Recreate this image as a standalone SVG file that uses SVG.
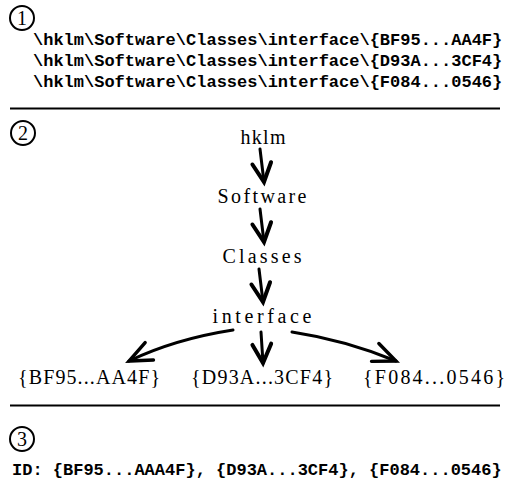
<svg xmlns="http://www.w3.org/2000/svg" width="511" height="482" viewBox="0 0 511 482">
<style>
.bg{fill:#fff}
.num circle{fill:none;stroke:#000;stroke-width:2}
.num text{font-family:"Liberation Serif",serif;font-size:20px;text-anchor:middle;fill:#000}
.path{font-family:"Liberation Mono",monospace;font-weight:bold;font-size:17px;fill:#000}
.node text{font-family:"Liberation Serif",serif;font-size:20px;text-anchor:middle;fill:#000}
.sep{stroke:#000;stroke-width:2.2}
.conn path{fill:none;stroke:#000;stroke-width:3;stroke-linecap:round}
</style>
<defs>
<marker id="ah" markerUnits="userSpaceOnUse" markerWidth="30" markerHeight="30" viewBox="-20 -12 24 24" refX="0" refY="0" orient="auto" overflow="visible">
<path d="M-15,-7.5 L0,0 L-15,7.5" fill="none" stroke="#000" stroke-width="3.2" stroke-linejoin="miter" stroke-linecap="round"/>
</marker>
<marker id="ahl" markerUnits="userSpaceOnUse" markerWidth="30" markerHeight="30" viewBox="-24 -12 28 24" refX="0" refY="0" orient="auto" overflow="visible">
<path d="M-21,-9 L0,0 L-21,9" fill="none" stroke="#000" stroke-width="3.2" stroke-linejoin="miter" stroke-linecap="round"/>
</marker>
</defs>
<rect class="bg" x="0" y="0" width="511" height="482"/>

<g id="section1">
<g class="num" id="num1"><circle cx="22" cy="18" r="12"/><text x="22" y="25">1</text></g>
<text class="path" x="33" y="45">\hklm\Software\Classes\interface\{BF95...AA4F}</text>
<text class="path" x="33" y="66">\hklm\Software\Classes\interface\{D93A...3CF4}</text>
<text class="path" x="33" y="87">\hklm\Software\Classes\interface\{F084...0546}</text>
</g>
<line class="sep" x1="10" y1="108.5" x2="500" y2="108.5"/>

<g class="num" id="num2"><circle cx="23" cy="133" r="12"/><text x="23" y="140">2</text></g>

<g id="n-hklm" class="node"><text x="263" y="144" textLength="45" lengthAdjust="spacing">hklm</text></g>
<g id="n-software" class="node"><text x="262" y="203" textLength="89" lengthAdjust="spacing">Software</text></g>
<g id="n-classes" class="node"><text x="262" y="263" textLength="79" lengthAdjust="spacing">Classes</text></g>
<g id="n-interface" class="node"><text x="262" y="323" textLength="99" lengthAdjust="spacing">interface</text></g>
<g id="n-bf95" class="node"><text x="89" y="384" textLength="142" lengthAdjust="spacing">{BF95...AA4F}</text></g>
<g id="n-d93a" class="node"><text x="262" y="384" textLength="142" lengthAdjust="spacing">{D93A...3CF4}</text></g>
<g id="n-f084" class="node"><text x="434" y="384" textLength="142" lengthAdjust="spacing">{F084...0546}</text></g>

<g id="connectors" class="conn">
<path d="M260,149 L264,182" marker-end="url(#ah)"/>
<path d="M260,209 L264,242" marker-end="url(#ah)"/>
<path d="M259,269 L263,302" marker-end="url(#ah)"/>
<path d="M261,332 L263,363" marker-end="url(#ah)"/>
<path d="M233,330 Q175,339 129,361" marker-end="url(#ahl)"/>
<path d="M292,332 Q345,340 396,361" marker-end="url(#ahl)"/>
</g>

<line class="sep" x1="10" y1="405.5" x2="500" y2="405.5"/>

<g id="section3">
<g class="num" id="num3"><circle cx="22" cy="439" r="12"/><text x="22" y="446">3</text></g>
<text class="path" x="12" y="475">ID: {BF95...AAA4F}, {D93A...3CF4}, {F084...0546}</text>
</g>
</svg>
